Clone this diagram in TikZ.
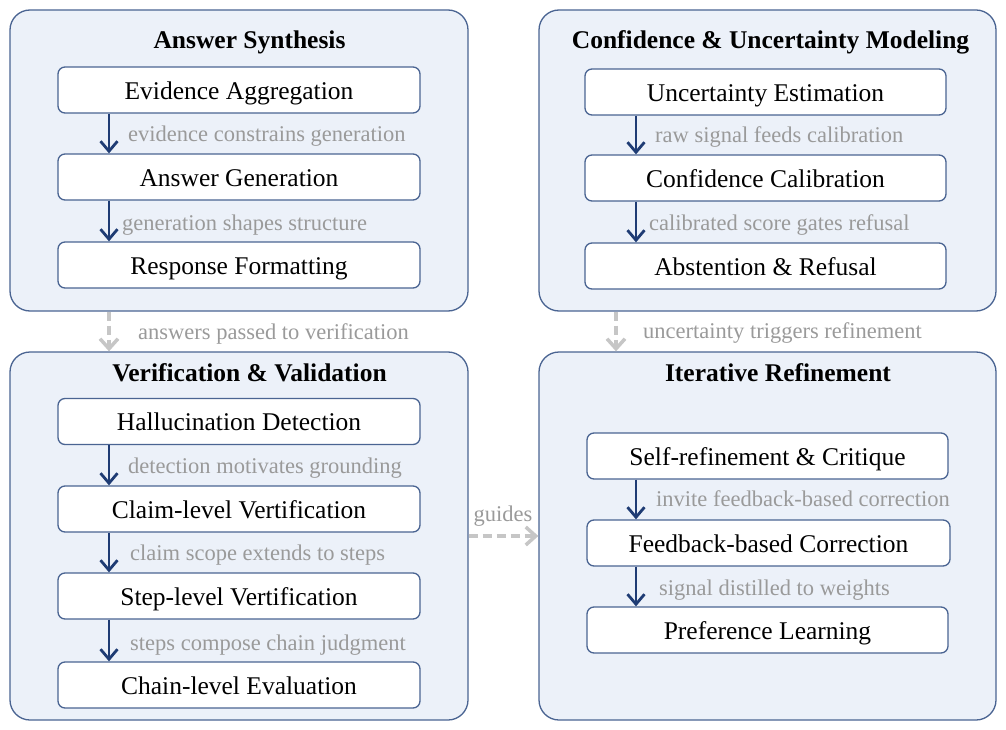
\documentclass[tikz,border=0pt]{standalone}
\usepackage{fontspec}
\setmainfont{Liberation Serif}
\usetikzlibrary{arrows.meta}
\definecolor{panelfill}{HTML}{ECF1F9}
\definecolor{paneldraw}{HTML}{4A6492}
\definecolor{navy}{HTML}{1F3C74}
\definecolor{lblgray}{HTML}{9A9A9A}
\definecolor{dashgray}{HTML}{C6C6C6}
\tikzset{
  panel/.style={draw=paneldraw, fill=panelfill, line width=1.3pt, rounded corners=20pt, inner sep=0pt},
  stepbox/.style={draw=paneldraw, fill=white, line width=1.3pt, rounded corners=7pt, minimum height=46pt, inner sep=0pt, text height=21pt, text depth=2.4pt, font=\fontsize{25.5}{30}\selectfont},
  ptitle/.style={font=\fontsize{25.5}{30}\selectfont\bfseries, inner sep=0pt, anchor=base},
  lbl/.style={text=lblgray, font=\fontsize{22.5}{27}\selectfont, anchor=base west, inner sep=0pt},
  arr/.style={draw=navy, line width=2.8pt, -{Straight Barb[length=10pt,width=17pt,line width=2.8pt]}},
  darr/.style={draw=dashgray, line width=3.5pt, dash pattern=on 9pt off 5pt, -{Straight Barb[length=10pt,width=18pt,line width=3.5pt]}}
}
\begin{document}
\begin{tikzpicture}[x=1pt,y=-1pt]
\useasboundingbox (0,0) rectangle (1006,730);
% panels
\node[panel, minimum width=458pt, minimum height=301pt] (pA) at (239,160.5) {};
\node[panel, minimum width=457pt, minimum height=301pt] (pC) at (767.5,160.5) {};
\node[panel, minimum width=458pt, minimum height=368pt] (pV) at (239,536) {};
\node[panel, minimum width=457pt, minimum height=368pt] (pI) at (767.5,536) {};
% titles
\node[ptitle] (tA) at (249.5,48.3) {Answer Synthesis};
\node[ptitle] (tC) at (770.5,48.3) {Confidence \& Uncertainty Modeling};
\node[ptitle] (tV) at (249.5,381.7) {Verification \& Validation};
\node[ptitle] (tI) at (778,381.7) {Iterative Refinement};
% column coordinates
\coordinate (xL) at (109,0);
\coordinate (xR) at (636,0);
\coordinate (xLd) at (109,0);
\coordinate (xRd) at (616,0);
% Answer synthesis
\node[stepbox, minimum width=362pt] (a1) at (239,90) {Evidence Aggregation};
\node[stepbox, minimum width=362pt] (a2) at (239,177) {Answer Generation};
\node[stepbox, minimum width=362pt] (a3) at (239,265) {Response Formatting};
\draw[arr] (a1.south -| xL) -- (a2.north -| xL);
\draw[arr] (a2.south -| xL) -- (a3.north -| xL);
\node[lbl] (la1) at (128,141.5) {evidence constrains generation};
\node[lbl] (la2) at (122,230) {generation shapes structure};
% Confidence
\node[stepbox, minimum width=361pt] (c1) at (765.5,92) {Uncertainty Estimation};
\node[stepbox, minimum width=361pt] (c2) at (765.5,178) {Confidence Calibration};
\node[stepbox, minimum width=361pt] (c3) at (765.5,266) {Abstention \& Refusal};
\draw[arr] (c1.south -| xR) -- (c2.north -| xR);
\draw[arr] (c2.south -| xR) -- (c3.north -| xR);
\node[lbl] (lc1) at (655,142.7) {raw signal feeds calibration};
\node[lbl] (lc2) at (649,230) {calibrated score gates refusal};
% Verification
\node[stepbox, minimum width=362pt] (v1) at (239,421.5) {Hallucination Detection};
\node[stepbox, minimum width=362pt] (v2) at (239,509) {Claim-level Vertification};
\node[stepbox, minimum width=362pt] (v3) at (239,596) {Step-level Vertification};
\node[stepbox, minimum width=362pt] (v4) at (239,685) {Chain-level Evaluation};
\draw[arr] (v1.south -| xL) -- (v2.north -| xL);
\draw[arr] (v2.south -| xL) -- (v3.north -| xL);
\draw[arr] (v3.south -| xL) -- (v4.north -| xL);
\node[lbl] (lv1) at (128,473.3) {detection motivates grounding};
\node[lbl] (lv2) at (130,560) {claim scope extends to steps};
\node[lbl] (lv3) at (130,650) {steps compose chain judgment};
% Iterative refinement
\node[stepbox, minimum width=361pt] (r1) at (767.5,456) {Self-refinement \& Critique};
\node[stepbox, minimum width=363pt] (r2) at (768.5,543) {Feedback-based Correction};
\node[stepbox, minimum width=361pt] (r3) at (767.5,630) {Preference Learning};
\draw[arr] (r1.south -| xR) -- (r2.north -| xR);
\draw[arr] (r2.south -| xR) -- (r3.north -| xR);
\node[lbl] (lr1) at (656,506.7) {invite feedback-based correction};
\node[lbl] (lr2) at (659,595) {signal distilled to weights};
% inter-panel arrows
\draw[darr] (pA.south -| xLd) -- (pV.north -| xLd);
\node[lbl] (lAV) at (138,339.3) {answers passed to verification};
\draw[darr] (pC.south -| xRd) -- (pI.north -| xRd);
\node[lbl] (lCI) at (643,338.3) {uncertainty triggers refinement};
\coordinate (yG) at (0,536);
\draw[darr] (pV.east |- yG) -- (pI.west |- yG);
\node[text=lblgray, font=\fontsize{22.5}{27}\selectfont, inner sep=0pt, anchor=base] (lG) at (503,521.7) {guides};
\end{tikzpicture}
\end{document}
